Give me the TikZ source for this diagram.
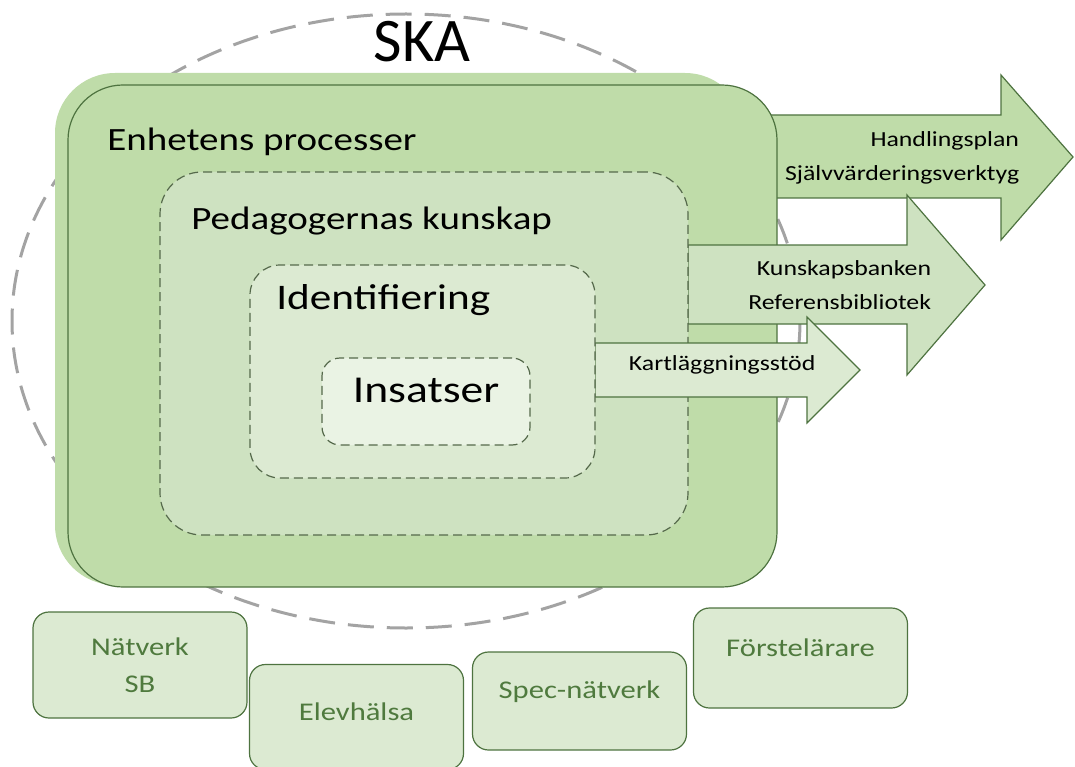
\documentclass[tikz,border=0pt]{standalone}
\usepackage{fontspec}
\setmainfont[FakeStretch=1.2]{Carlito}
\newfontfamily\skafont{Carlito}
\usepackage{xcolor}
\usetikzlibrary{positioning}
\definecolor{leaf}{HTML}{BFDCA9}
\definecolor{leafb}{HTML}{CEE2C1}
\definecolor{leafc}{HTML}{DCEAD2}
\definecolor{leafd}{HTML}{EAF3E4}
\definecolor{edge}{HTML}{4E7340}
\definecolor{dashedge}{HTML}{55694B}
\definecolor{ringgray}{HTML}{A3A3A3}
\definecolor{labelgreen}{HTML}{4F7A3E}
\newcommand{\setfs}[1]{\fontsize{#1}{#1}\selectfont}

\begin{document}
\begin{tikzpicture}[x=1pt, y=-1pt, line width=1.2pt,
  main/.style = {draw=edge, inner sep=0pt},
  layer/.style = {draw=dashedge, dash pattern=on 9pt off 5pt, inner sep=0pt},
  ring/.style = {draw=ringgray, line width=3pt, dash pattern=on 26pt off 13pt},
  blockarrow/.style = {draw=edge, line join=miter},
  arrowtxt/.style = {font=\setfs{21.5}, align=right},
  group/.style = {draw=edge, fill=leafc, rounded corners=16pt, inner sep=0pt, minimum width=214},
  grouptxt/.style = {text=labelgreen, font=\setfs{25.5}, align=center}]
\useasboundingbox (0,0) rectangle (1075,767);

% dashed SKA ring
\draw[ring] (406,321) ellipse [x radius=394, y radius=307];
\node[font=\skafont\setfs{62}] (ska) at (422,42) {SKA};

% outgoing arrows (back to front)
\draw[blockarrow, fill=leaf] (740,115) -- (1001,115) -- (1001,75) -- (1073,157)
  -- (1001,240) -- (1001,198) -- (740,198) -- cycle;
\node[arrowtxt, anchor=east] (plan) at (1023,158)
  {Handlingsplan\\[13pt]Självvärderingsverktyg};

% Enhetens processer
\node[fill=leaf, minimum width=690, minimum height=512, rounded corners=60pt] (blob) at (400,329) {};
\node[main, fill=leaf, minimum width=709, minimum height=502, rounded corners=55pt] (enhet) at (422.5,336) {};
\node[anchor=west, font=\setfs{32.5}] (enhettxt) at ([shift={(36,57)}]enhet.north west) {Enhetens processer};

\draw[blockarrow, fill=leafb] (688,245) -- (907,245) -- (907,195) -- (985,285)
  -- (907,375) -- (907,324) -- (688,324) -- cycle;
\node[arrowtxt, anchor=east] (bank) at (935,285)
  {Kunskapsbanken\\[13pt]Referensbibliotek};

% Pedagogernas kunskap
\node[layer, fill=leafb, minimum width=528, minimum height=363, rounded corners=42pt] (pedagog) at (424,353.5) {};
\node[anchor=west, font=\setfs{32.5}] (pedagogtxt) at ([shift={(28,50)}]pedagog.north west) {Pedagogernas kunskap};

\draw[blockarrow, fill=leafc] (595,343) -- (807,343) -- (807,317) -- (860,370)
  -- (807,423) -- (807,397) -- (595,397) -- cycle;
\node[arrowtxt, anchor=west] (kart) at (625,365) {Kartläggningsstöd};

% Identifiering
\node[layer, fill=leafc, minimum width=345, minimum height=213, rounded corners=30pt] (ident) at (422.5,371.5) {};
\node[anchor=west, font=\setfs{36}] (identtxt) at ([shift={(23,36)}]ident.north west) {Identifiering};

% Insatser
\node[layer, fill=leafd, minimum width=208, minimum height=87, rounded corners=18pt] (insats) at (426,401.5) {};
\node[font=\setfs{38}] (insatstxt) at ([yshift=11]insats.center) {Insatser};

% groups below
\node[group, minimum height=106] (natverk) at (140,665) {};
\node[grouptxt] (natverktxt) at (natverk) {Nätverk\\[12pt]SB};
\node[group, minimum height=105] (elev) at (356.5,717) {};
\node[grouptxt] (elevtxt) at ([yshift=5]elev) {Elevhälsa};
\node[group, minimum height=98] (spec) at (579.5,701) {};
\node[grouptxt] (spectxt) at ([yshift=9]spec) {Spec-nätverk};
\node[group, minimum height=100] (forste) at (800.5,658) {};
\node[grouptxt] (forstetxt) at ([yshift=10]forste) {Förstelärare};
\end{tikzpicture}
\end{document}
